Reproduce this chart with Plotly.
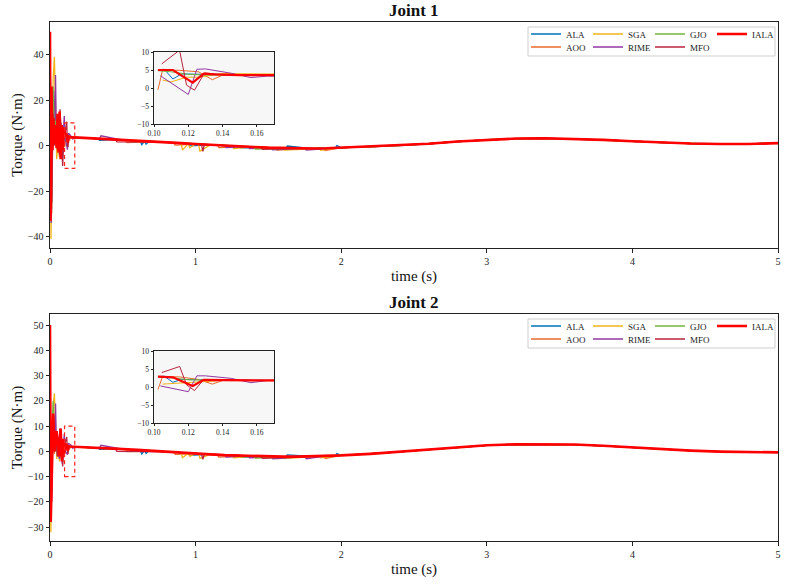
import plotly.graph_objects as go

# ---------------- data ----------------
ALGOS = ["ALA", "AOO", "SGA", "RIME", "GJO", "MFO", "IALA"]

# shared smooth tail (t >= 2 s)
TAIL_T = [2.0, 2.2, 2.4, 2.6, 2.8, 3.0, 3.2, 3.4, 3.6, 3.8, 4.0, 4.2, 4.4, 4.6, 4.8, 5.0]
TAIL1_V = [-0.9, -0.6, 0.0, 0.8, 1.8, 2.6, 3.1, 3.2, 2.9, 2.5, 1.9, 1.3, 0.9, 0.7, 0.7, 1.1]
TAIL2_V = [-1.6, -1.0, -0.2, 0.7, 1.6, 2.4, 2.8, 2.9, 2.7, 2.2, 1.5, 0.8, 0.3, -0.1, -0.3, -0.4]

# ---- Joint 1 ----
IALA1_T = [0.0, 0.004, 0.010, 0.017, 0.024, 0.031, 0.038, 0.045, 0.052, 0.059, 0.066, 0.073, 0.080, 0.087, 0.094,
           0.1023, 0.1045, 0.111, 0.1226, 0.129, 0.135, 0.14, 0.15, 0.167,
           0.2, 0.3, 0.4, 0.5, 0.6, 0.7, 0.8, 0.9, 1.0, 1.1, 1.2, 1.3, 1.4, 1.5, 1.6, 1.7, 1.8, 1.9]
IALA1_V = [50.0, -33.0, 26.0, -2.0, 12.0, 1.0, 9.0, -1.0, 14.0, -3.0, 15.0, -6.0, 9.0, -2.0, 8.0,
           5.0, 5.0, 5.0, 1.5, 4.0, 3.8, 3.7, 3.6, 3.6,
           3.5, 3.1, 2.8, 2.4, 2.1, 1.8, 1.5, 1.1, 0.7, 0.3, 0.0, -0.3, -0.6, -0.9, -1.1, -1.2, -1.3, -1.2]

ALA1_T = [0.0, 0.004, 0.011, 0.02, 0.03, 0.042, 0.052, 0.064, 0.075, 0.088,
          0.1023, 0.106, 0.111, 0.116, 0.13, 0.15, 0.17,
          0.2, 0.33, 0.34, 0.45, 0.62, 0.63, 0.65, 0.66, 0.68, 0.8, 0.95, 0.96, 1.1, 1.3, 1.31, 1.5, 1.62, 1.63, 1.8, 1.96, 1.97]
ALA1_V = [48, 20, -28, 18, 3, 10, -2, -3, 6, 1,
          5.0, 5.2, 2.5, 3.9, 3.8, 3.7, 3.6,
          3.5, 3.0, 2.3, 2.6, 2.0, 0.4, 2.0, 0.6, 1.9, 1.5, 0.9, -0.1, 0.3, -0.3, -1.0, -0.9, -1.1, -0.2, -1.3, -1.1, 0.0]

AOO1_T = [0.0, 0.005, 0.012, 0.021, 0.03, 0.04, 0.05, 0.06, 0.07, 0.08, 0.09,
          0.1023, 0.105, 0.115, 0.126, 0.134, 0.14, 0.15, 0.167,
          0.2, 0.4, 0.52, 0.53, 0.7, 0.85, 0.86, 1.0, 1.15, 1.16, 1.35, 1.55, 1.56, 1.75, 1.88, 1.89]
AOO1_V = [45, 10, -30, 15, 2, 8, -3, 5, 0, 6, 1,
          -0.5, 5.0, 4.9, 4.5, 2.3, 3.6, 3.5, 3.5,
          3.5, 2.8, 2.3, 1.3, 1.8, 1.3, 0.2, 0.7, 0.2, -0.9, -0.5, -1.0, -2.0, -1.2, -1.3, -2.2]

SGA1_T = [0.0, 0.007, 0.014, 0.022, 0.03, 0.038, 0.046, 0.055, 0.064, 0.073, 0.083, 0.093,
          0.105, 0.11, 0.119, 0.126, 0.14, 0.167,
          0.2, 0.5, 0.9, 0.91, 0.95, 0.96, 1.0, 1.02, 1.03, 1.1, 1.25, 1.26, 1.4, 1.6, 1.61, 1.85, 1.86]
SGA1_V = [40, -41, 5, 30, 39, 10, -6, 2, -5, 10, -4, 5,
          2.2, 1.7, 3.0, 3.0, 4.0, 3.6,
          3.5, 2.4, 1.1, -2.0, 0.9, -1.0, 0.7, 0.6, -2.5, 0.3, -0.2, -1.3, -0.6, -1.1, -2.0, -1.3, -2.1]

RIME1_T = [0.0, 0.008, 0.016, 0.025, 0.033, 0.038, 0.045, 0.055, 0.065, 0.075, 0.085, 0.098,
           0.1037, 0.120, 0.125, 0.130, 0.145, 0.1565, 0.166,
           0.2, 0.34, 0.35, 0.5, 0.75, 1.0, 1.2, 1.21, 1.36, 1.37, 1.5, 1.52, 1.53, 1.7, 1.75, 1.76, 1.9]
RIME1_V = [42, -34, 10, 24, 5, 31, 0, 8, -4, 10, -1, 13,
           3.4, -1.8, 5.2, 5.3, 4.1, 2.9, 3.3,
           3.5, 3.0, 4.3, 2.4, 1.6, 0.7, 0.0, -0.9, -0.4, -1.3, -0.9, -0.9, -1.9, -1.2, -1.2, -2.0, -1.2]

GJO1_T = [0.0, 0.006, 0.013, 0.022, 0.03, 0.04, 0.05, 0.06, 0.07, 0.08, 0.09,
          0.1023, 0.11, 0.12, 0.13, 0.15, 0.167,
          0.2, 0.6, 1.0, 1.4, 1.41, 1.8, 1.9]
GJO1_V = [44, -20, 10, 26, 4, 11, -1, 7, 0, 5, 2,
          4.8, 4.5, 3.8, 3.6, 3.6, 3.5,
          3.5, 2.1, 0.7, -0.6, -1.5, -1.3, -1.2]

MFO1_T = [0.0, 0.005, 0.012, 0.02, 0.03, 0.04, 0.05, 0.06, 0.069, 0.078, 0.087, 0.095,
          0.1045, 0.1149, 0.119, 0.1236, 0.1295, 0.14, 0.152, 0.167,
          0.2, 0.45, 0.46, 0.8, 1.04, 1.05, 1.06, 1.3, 1.45, 1.46, 1.7, 1.9]
MFO1_V = [46, -10, -25, 14, 0, 9, -2, 4, 16, 2, -9, 2,
          6.7, 10.5, 0.8, -0.6, 4.2, 3.7, 3.6, 3.3,
          3.5, 2.6, 1.6, 1.5, 0.6, -2.5, 0.5, -0.3, -0.8, -1.7, -1.2, -1.2]

# ---- Joint 2 ----
IALA2_T = [0.0, 0.005, 0.022, 0.032, 0.045, 0.055, 0.064, 0.073, 0.082, 0.090, 0.097,
           0.1023, 0.111, 0.1226, 0.129, 0.14, 0.15, 0.167,
           0.2, 0.3, 0.4, 0.5, 0.6, 0.7, 0.8, 0.9, 1.0, 1.1, 1.2, 1.3, 1.4, 1.5, 1.6, 1.7, 1.8, 1.9]
IALA2_V = [50, -28, 15, 0, 8, 1, -2, 9, -4, 5, -1,
           2.9, 2.7, 0.3, 2.0, 1.9, 1.8, 1.8,
           1.7, 1.5, 1.2, 0.9, 0.6, 0.2, -0.2, -0.5, -0.9, -1.2, -1.5, -1.7, -1.9, -2.0, -2.1, -2.1, -2.0, -1.8]

ALA2_T = [0.0, 0.005, 0.012, 0.022, 0.033, 0.045, 0.056, 0.066, 0.077, 0.088,
          0.1023, 0.106, 0.111, 0.116, 0.13, 0.15, 0.17,
          0.2, 0.33, 0.34, 0.45, 0.62, 0.63, 0.65, 0.66, 0.68, 0.8, 0.95, 0.96, 1.1, 1.3, 1.31, 1.5, 1.62, 1.63, 1.8, 1.96, 1.97]
ALA2_V = [47, -18, 10, 12, 0, 6, -1, -3, 5, 1,
          2.9, 3.0, 1.3, 2.1, 2.0, 1.9, 1.8,
          1.7, 1.4, 0.8, 1.0, 0.5, -1.0, 0.4, -0.8, 0.3, -0.2, -0.7, -1.6, -1.2, -1.7, -2.4, -2.0, -2.1, -1.4, -2.0, -1.7, -0.9]

AOO2_T = [0.0, 0.005, 0.012, 0.021, 0.03, 0.04, 0.05, 0.06, 0.07, 0.08, 0.09,
          0.1023, 0.105, 0.115, 0.126, 0.134, 0.14, 0.15, 0.167,
          0.2, 0.4, 0.52, 0.53, 0.7, 0.85, 0.86, 1.0, 1.15, 1.16, 1.35, 1.55, 1.56, 1.75, 1.88, 1.89]
AOO2_V = [44, -15, 8, 12, -1, 6, -2, 4, 0, 5, 1,
          -0.7, 2.9, 2.8, 2.1, 0.8, 1.8, 1.8, 1.8,
          1.7, 1.2, 0.8, -0.1, 0.2, -0.3, -1.2, -0.9, -1.3, -2.3, -1.8, -2.0, -2.9, -2.1, -1.9, -2.8]

SGA2_T = [0.0, 0.006, 0.014, 0.022, 0.03, 0.038, 0.047, 0.056, 0.065, 0.075, 0.085, 0.095,
          0.105, 0.119, 0.126, 0.14, 0.167,
          0.2, 0.5, 0.9, 0.91, 0.95, 0.96, 1.0, 1.02, 1.03, 1.1, 1.25, 1.26, 1.4, 1.6, 1.61, 1.85, 1.86]
SGA2_V = [40, -32, 2, 18, 23, 6, -3, 5, -4, 6, -2, 3,
          0.8, 1.2, 1.5, 1.8, 1.8,
          1.7, 0.9, -0.5, -2.5, -0.7, -2.0, -0.9, -1.0, -2.8, -1.2, -1.6, -2.6, -1.9, -2.1, -2.9, -1.9, -2.6]

RIME2_T = [0.0, 0.008, 0.016, 0.025, 0.033, 0.038, 0.045, 0.055, 0.065, 0.075, 0.085, 0.098,
           0.1037, 0.120, 0.125, 0.130, 0.145, 0.1565, 0.166,
           0.2, 0.34, 0.35, 0.5, 0.75, 1.0, 1.2, 1.21, 1.36, 1.37, 1.5, 1.52, 1.53, 1.7, 1.75, 1.76, 1.9]
RIME2_V = [42, -28, 6, 14, 3, 19, 0, 6, -3, 8, -5, 7,
           0.3, -1.3, 3.1, 3.1, 2.4, 1.2, 1.8,
           1.7, 1.4, 2.4, 0.9, 0.0, -0.9, -1.5, -2.3, -1.8, -2.6, -2.0, -2.0, -3.0, -2.1, -2.1, -2.9, -1.8]

GJO2_T = [0.0, 0.006, 0.013, 0.022, 0.03, 0.04, 0.05, 0.06, 0.07, 0.08, 0.09,
          0.1023, 0.11, 0.12, 0.13, 0.15, 0.167,
          0.2, 0.6, 1.0, 1.4, 1.41, 1.8, 1.9]
GJO2_V = [44, -22, 6, 20, 2, 8, -1, 5, 0, 4, 1,
          2.8, 2.6, 2.0, 1.9, 1.8, 1.8,
          1.7, 0.6, -0.9, -1.9, -2.7, -2.0, -1.8]

MFO2_T = [0.0, 0.005, 0.012, 0.02, 0.03, 0.04, 0.05, 0.06, 0.069, 0.078, 0.087, 0.095,
          0.1045, 0.115, 0.119, 0.1236, 0.129, 0.14, 0.152, 0.167,
          0.2, 0.45, 0.46, 0.8, 1.04, 1.05, 1.06, 1.3, 1.45, 1.46, 1.7, 1.9]
MFO2_V = [46, -8, -20, 10, 0, 6, -2, 3, 9, 1, -6, 2,
          4.0, 5.7, 0.6, -1.0, 2.1, 1.9, 1.8, 1.8,
          1.7, 1.0, 0.0, -0.2, -1.0, -3.2, -1.0, -1.7, -2.0, -2.8, -2.1, -1.8]

X_TICKS = [0, 1, 2, 3, 4, 5]
INSET_X_TICKS = [0.10, 0.12, 0.14, 0.16]
INSET_Y_TICKS = [-10, -5, 0, 5, 10]

# ---------------- styling ----------------
FONT = "Liberation Serif"
COLORS = {"ALA": "#0072BD", "AOO": "#EA6A2C", "SGA": "#F2B318", "RIME": "#9138A0",
          "GJO": "#74B33A", "MFO": "#B8243E", "IALA": "#FF0000"}

JOINTS = {
    1: {"ALA": (ALA1_T, ALA1_V), "AOO": (AOO1_T, AOO1_V), "SGA": (SGA1_T, SGA1_V),
        "RIME": (RIME1_T, RIME1_V), "GJO": (GJO1_T, GJO1_V), "MFO": (MFO1_T, MFO1_V),
        "IALA": (IALA1_T, IALA1_V)},
    2: {"ALA": (ALA2_T, ALA2_V), "AOO": (AOO2_T, AOO2_V), "SGA": (SGA2_T, SGA2_V),
        "RIME": (RIME2_T, RIME2_V), "GJO": (GJO2_T, GJO2_V), "MFO": (MFO2_T, MFO2_V),
        "IALA": (IALA2_T, IALA2_V)},
}
TAILS = {1: TAIL1_V, 2: TAIL2_V}

ROW1 = ["ALA", "SGA", "GJO", "IALA"]
LEGENDS = {1: ("legend", "legend2"), 2: ("legend3", "legend4")}
AXES = {1: ("x", "y", "x3", "y3"), 2: ("x2", "y2", "x4", "y4")}

fig = go.Figure()
for j in (1, 2):
    xm, ym, xi, yi = AXES[j]
    for name in ALGOS:
        t, v = JOINTS[j][name]
        assert len(t) == len(v), (j, name, len(t), len(v))
        tt = list(t) + TAIL_T
        vv = list(v) + TAILS[j]
        w = 2.6 if name == "IALA" else 1.3
        fig.add_trace(go.Scatter(
            x=tt, y=vv, mode="lines", name=name, xaxis=xm, yaxis=ym,
            line=dict(color=COLORS[name], width=w),
            legend=LEGENDS[j][0] if name in ROW1 else LEGENDS[j][1],
            showlegend=True, hoverinfo="skip"))
    for name in ALGOS:
        t, v = JOINTS[j][name]
        sel = [(a, b) for a, b in zip(t, v) if a >= 0.1]
        wi = 2.2 if name == "IALA" else 1.0
        fig.add_trace(go.Scatter(
            x=[a for a, _ in sel], y=[b for _, b in sel], mode="lines", name=name,
            xaxis=xi, yaxis=yi, line=dict(color=COLORS[name], width=wi),
            showlegend=False, hoverinfo="skip"))

W, H = 786, 586
ML, MR, MT, MB = 50, 8, 22, 45
PH = H - MT - MB
PW = W - ML - MR


def py(px):  # pixel row -> paper y
    return (H - MB - px) / PH


def pxx(px):  # pixel col -> paper x
    return (px - ML) / PW


axis_common = dict(showline=True, linecolor="#222", linewidth=1, mirror=True,
                   ticks="outside", ticklen=3.5, tickcolor="#222", tickwidth=0.8,
                   showgrid=False, zeroline=False,
                   tickfont=dict(family=FONT, size=10, color="#222"))
inset_common = dict(showline=True, linecolor="#222", linewidth=0.8, mirror=True,
                    ticks="outside", ticklen=2.5, tickcolor="#222", tickwidth=0.6,
                    showgrid=False, zeroline=False,
                    tickfont=dict(family=FONT, size=7.5, color="#222"))
title_font = dict(family=FONT, size=15, color="#111")

legend_common = dict(orientation="h", xanchor="left", yanchor="middle",
                     entrywidth=17, entrywidthmode="pixels", itemwidth=30,
                     bgcolor="rgba(0,0,0,0)", borderwidth=0,
                     font=dict(family=FONT, size=9, color="#222"))

OFF = 292  # pixel offset between the two panels
LEG_X = pxx(526)
fig.update_layout(
    width=W, height=H, margin=dict(l=ML, r=MR, t=MT, b=MB, autoexpand=False),
    paper_bgcolor="white", plot_bgcolor="#f7f7f7",
    font=dict(family=FONT, color="#222"),
    xaxis=dict(axis_common, domain=[0, 1], anchor="y", range=[0, 5], tickvals=X_TICKS,
               title=dict(text="time (s)", font=title_font, standoff=4)),
    yaxis=dict(axis_common, domain=[py(248), 1], anchor="x", range=[-45, 54.3],
               tickvals=[-40, -20, 0, 20, 40],
               title=dict(text="Torque (N·m)", font=title_font, standoff=1)),
    xaxis2=dict(axis_common, domain=[0, 1], anchor="y2", range=[0, 5], tickvals=X_TICKS,
                title=dict(text="time (s)", font=title_font, standoff=4)),
    yaxis2=dict(axis_common, domain=[0, py(314)], anchor="x2", range=[-35.5, 54.4],
                tickvals=[-30, -20, -10, 0, 10, 20, 30, 40, 50],
                title=dict(text="Torque (N·m)", font=title_font, standoff=1)),
    xaxis3=dict(inset_common, domain=[pxx(154), pxx(274)], anchor="y3", range=[0.1, 0.17],
                tickvals=INSET_X_TICKS, tickformat=".2f"),
    yaxis3=dict(inset_common, domain=[py(124), py(52)], anchor="x3", range=[-10, 10],
                tickvals=INSET_Y_TICKS),
    xaxis4=dict(inset_common, domain=[pxx(154), pxx(274)], anchor="y4", range=[0.1, 0.17],
                tickvals=INSET_X_TICKS, tickformat=".2f"),
    yaxis4=dict(inset_common, domain=[py(124 + OFF + 7), py(52 + OFF + 7)], anchor="x4",
                range=[-10, 10], tickvals=INSET_Y_TICKS),
    legend=dict(legend_common, x=LEG_X, y=py(34)),
    legend2=dict(legend_common, x=LEG_X, y=py(47)),
    legend3=dict(legend_common, x=LEG_X, y=py(34 + OFF)),
    legend4=dict(legend_common, x=LEG_X, y=py(47 + OFF)),
    showlegend=True,
)

shapes = []
# white backgrounds of the main panels (inset keeps the light grey plot background)
for xr, yr in (("x", "y"), ("x2", "y2")):
    shapes.append(dict(type="rect", xref=f"{xr} domain", yref=f"{yr} domain",
                       x0=0, x1=1, y0=0, y1=1, fillcolor="white",
                       line=dict(width=0), layer="below"))
# zoom boxes
for xr, yr in (("x", "y"), ("x2", "y2")):
    shapes.append(dict(type="rect", xref=xr, yref=yr, x0=0.1, x1=0.17, y0=-10, y1=10,
                       line=dict(color="#FF2020", width=1.2, dash="4px,3px"), layer="above"))
# legend frames
for off in (0, OFF):
    shapes.append(dict(type="rect", xref="paper", yref="paper",
                       x0=pxx(528), x1=pxx(775), y0=py(56 + off), y1=py(27 + off),
                       line=dict(color="#cfcfcf", width=1), layer="above"))
fig.update_layout(shapes=shapes)

fig.add_annotation(text="<b>Joint 1</b>", xref="paper", yref="paper", x=0.5, y=py(10),
                   showarrow=False, font=dict(family=FONT, size=17, color="#111"),
                   xanchor="center", yanchor="middle")
fig.add_annotation(text="<b>Joint 2</b>", xref="paper", yref="paper", x=0.5, y=py(302),
                   showarrow=False, font=dict(family=FONT, size=17, color="#111"),
                   xanchor="center", yanchor="middle")

fig.write_html("out.html")
